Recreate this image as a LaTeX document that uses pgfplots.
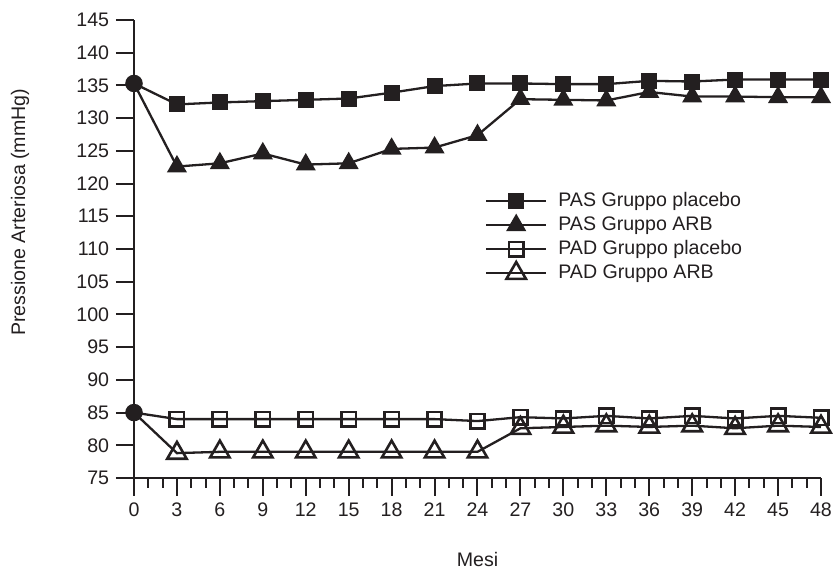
\documentclass[border=0pt]{standalone}
\usepackage{fontspec}
\setmainfont{Liberation Sans}
\usepackage{pgfplots}
\usepackage{pgfplotstable}
\pgfplotsset{compat=1.18}
\definecolor{ink}{HTML}{231F20}

% pressione arteriosa (mmHg) per mese
\pgfplotstableread{
x  pasplac pasarb padplac padarb
0  135.3   135.3  85.0    85.0
3  132.1   122.6  84.0    78.8
6  132.4   123.1  84.0    79.0
9  132.6   124.6  84.0    79.0
12 132.8   122.9  84.0    79.0
15 133.0   123.1  84.0    79.0
18 133.9   125.3  84.0    79.0
21 134.9   125.5  84.0    79.0
24 135.3   127.4  83.7    79.0
27 135.3   132.9  84.3    82.6
30 135.2   132.8  84.1    82.8
33 135.2   132.7  84.5    83.0
36 135.7   134.0  84.1    82.8
39 135.6   133.3  84.5    83.0
42 135.9   133.3  84.1    82.6
45 135.9   133.2  84.5    83.0
48 135.9   133.2  84.2    82.8
}\bp

\begin{document}
\fontsize{9.8pt}{11.8pt}\selectfont
\begin{tikzpicture}
\begin{axis}[
    scale only axis,
    width=343.5pt, height=229pt,
    xmin=0, xmax=48, ymin=75, ymax=145,
    axis lines=left,
    axis line style={-, ink, line width=1pt},
    clip=false,
    xtick={0,3,...,48}, minor x tick num=2,
    ytick={75,80,...,145},
    tick align=outside,
    major tick length=9pt, minor tick length=5pt,
    tick style={ink, line width=1pt},
    /pgf/number format/assume math mode=true,
    ticklabel style={text=ink},
    xlabel={Mesi}, ylabel={Pressione Arteriosa (mmHg)},
    xlabel style={at={(axis description cs:0.5,-0.179)}, anchor=center, text=ink},
    ylabel style={at={(axis description cs:-0.166,0.58)}, anchor=center, text=ink},
    legend style={at={(axis cs:24.5,119.2)}, anchor=north west, draw=none, fill=none,
        inner sep=0pt, row sep=0pt,
        nodes={inner sep=1pt, text height=7.8pt, text depth=2.2pt, text=ink},
        /tikz/every odd column/.append style={column sep=4.5pt}},
    legend cell align=left,
    legend image code/.code={
        \draw[mark=none] (0pt,0pt) -- (30pt,0pt);
        \draw[mark indices={1}] plot coordinates {(15pt,0pt)};
    },
    every axis plot/.append style={ink, line width=1.15pt, mark indices={2,...,17}},
]
\addplot[mark=square*, mark size=3.5pt, mark options={line width=1pt}] table[x=x, y=pasplac]{\bp};
\addlegendentry{PAS Gruppo placebo}
\addplot[mark=triangle*, mark size=4.8pt, mark options={line width=1pt}] table[x=x, y=pasarb]{\bp};
\addlegendentry{PAS Gruppo ARB}
\addplot[mark=square, mark size=3.6pt, mark options={line width=1.3pt}] table[x=x, y=padplac]{\bp};
\addlegendentry{PAD Gruppo placebo}
\addplot[mark=triangle, mark size=5.6pt, mark options={line width=1.3pt}] table[x=x, y=padarb]{\bp};
\addlegendentry{PAD Gruppo ARB}
\addplot[only marks, mark=*, mark size=3.8pt, mark indices={}, forget plot] coordinates {(0,135.3) (0,85.0)};
\end{axis}
\pgfresetboundingbox
\path (-67pt,-50pt) rectangle (351pt,239pt);
\end{tikzpicture}
\end{document}
